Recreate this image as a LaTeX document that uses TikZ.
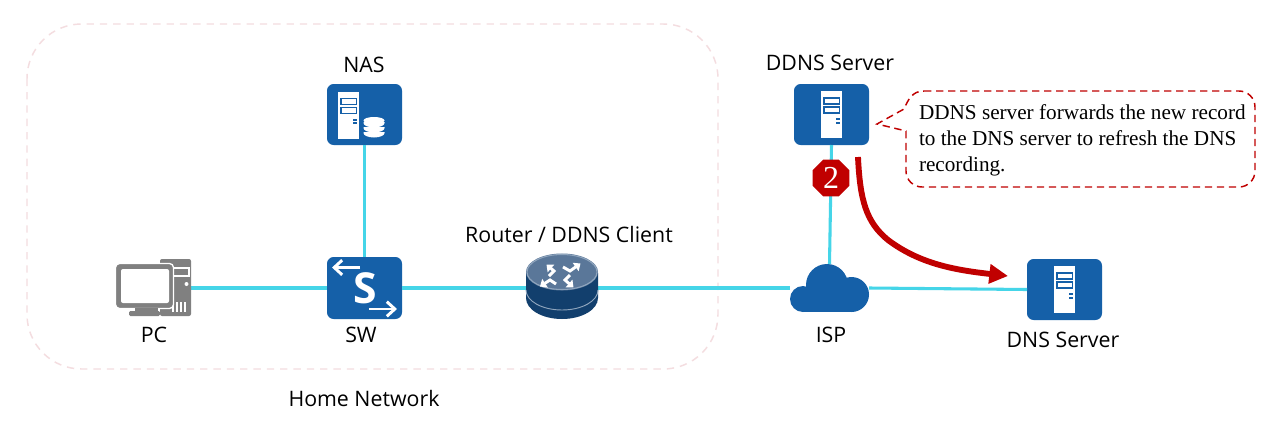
\documentclass[tikz,border=0pt]{standalone}
\usepackage{fontspec}
\setmainfont{Open Sans}
\newfontfamily\calloutfont{Liberation Serif}
\usetikzlibrary{arrows.meta,shapes.geometric}
\definecolor{iconblue}{HTML}{1560A8}
\definecolor{link}{HTML}{45D5E8}
\definecolor{alert}{HTML}{C00000}
\definecolor{zone}{HTML}{F4DDE0}
\definecolor{pcgray}{HTML}{808080}
\definecolor{routertop}{HTML}{5A7799}
\definecolor{routerrim}{HTML}{8FA5BD}
\definecolor{routerbody}{HTML}{123F6D}
\tikzset{
  x=0.75pt,y=-0.75pt,
  iconbox/.style={fill=iconblue,rounded corners=5pt,minimum width=56.25pt,minimum height=45.75pt,inner sep=0pt,outer sep=0pt},
  ghost/.style={inner sep=0pt,outer sep=0pt},
  linkline/.style={draw=link,line width=2.3pt},
  caption/.style={font=\fontsize{16}{19}\selectfont,text=black,inner sep=0pt},
  slot/.style={draw=iconblue,line width=1pt,fill=white},
  flow/.style={draw=white,line width=2.2pt,-{Triangle[length=4.5pt,width=7.5pt]}},
  swarrow/.style={draw=white,line width=2.2pt,-{Straight Barb[length=6pt,width=11pt]}},
}
% white tower with two drive slots, drawn around the centre of its front
\newcommand{\towerglyph}[2]{%
  \begin{scope}[shift={(#1,#2)}]
    \fill[white] (-10.5,-23.5) rectangle (10.5,23.5);
    \draw[slot] (-7.5,-16.5) rectangle (8,-10.5);
    \draw[slot] (-7.5,-7.5) rectangle (8,-1.5);
    \fill[iconblue] (4.5,3.5) rectangle (8,5.5);
    \fill[iconblue] (4.5,7) rectangle (8,9);
  \end{scope}}
\begin{document}
\begin{tikzpicture}
\useasboundingbox (0,0) rectangle (1283,436);
\fill[white] (0,0) rectangle (1283,436);

% home network zone
\draw[zone,line width=1.1pt,dash pattern=on 5.5pt off 4.5pt,rounded corners=41pt] (27,24) rectangle (718,369);

% device placeholders that carry the connector anchors
\node[ghost,minimum width=56.25pt,minimum height=43pt] (pc) at (153.5,288) {};
\node[iconbox] (nas) at (364.5,114.5) {};
\node[iconbox,minimum height=46.5pt] (sw) at (364.5,288) {};
\node[ghost,minimum width=54pt,minimum height=48pt] (router) at (562,288) {};
\node[ghost,minimum width=59.25pt,minimum height=36pt] (isp) at (829.5,288) {};
\node[iconbox] (ddns) at (831.5,114.5) {};
\node[iconbox] (dns) at (1064.5,289.5) {};

% links
\draw[linkline] (pc.east) -- (sw.west);
\draw[linkline] (nas.south) -- (sw.north);
\draw[linkline] (sw.east) -- (router.west);
\draw[linkline] (router.east) -- (isp.west);
\draw[linkline] (isp.east) -- (dns.west);
\draw[linkline] (ddns.south) -- (isp.north);

% PC
\fill[pcgray,rounded corners=1.5pt] (160,259) rectangle (191,316);
\draw[white,line width=0.8pt] (172,268) -- (189,268) -- (189,276) -- (172,276);
\fill[white] (186.5,284) circle (2);
\foreach \vx in {173,177,181,185}
  \draw[white,line width=0.8pt] (\vx,302) -- (\vx,312);
\draw[white,line width=1pt,fill=pcgray,rounded corners=3pt] (115.5,263.5) rectangle (173.5,308.5);
\fill[white,rounded corners=1.5pt] (121,269) rectangle (169,303);
\fill[pcgray] (135,308) rectangle (158,311.5);
\fill[pcgray,rounded corners=1pt] (129,311) rectangle (160,316);

% NAS glyph
\towerglyph{348.5}{115}
\foreach \dy in {132,127,122}{
  \fill[white] (363.5,\dy) -- (363.5,\dy+1) arc[start angle=180,end angle=0,x radius=10.5,y radius=4.5] -- (384.5,\dy) -- cycle;
}
\fill[white] (374,120.5) ellipse[x radius=10.5,y radius=3.5];

% switch glyph
\node[ghost,text=white,font=\fontsize{32}{32}\bfseries\selectfont] (swlabel) at (365.5,288) {S};
\draw[swarrow] (360,267.5) -- (332,267.5);
\draw[swarrow] (369,309) -- (397,309);

% router glyph
\fill[routerbody] (526,273) -- (526,298) arc[start angle=180,end angle=0,x radius=36,y radius=21] -- (598,273) -- cycle;
\draw[routerrim,line width=0.7pt] (526,290) arc[start angle=180,end angle=0,x radius=36,y radius=20];
\fill[routertop] (562,272) ellipse[x radius=36,y radius=18.5];
\draw[routerrim,line width=0.8pt] (562,272) ellipse[x radius=35,y radius=17.5];
\draw[flow] (549,276) -- (554,271) -- (546.5,264.5);
\draw[flow] (556,284) -- (550,280) -- (540,286.5);
\draw[flow] (563,267) -- (570,271) -- (580.5,263.5);
\draw[flow] (570,275) -- (565,280) -- (573.5,287.5);

% ISP cloud
\fill[iconblue] (803,299) circle (13) (827,285) circle (21) (851.5,294.5) circle (17.5);
\fill[iconblue] (803,290) rectangle (851.5,312);

% server glyphs
\towerglyph{831.5}{114.5}
\towerglyph{1064.5}{289.5}

% step badge
\node[regular polygon,regular polygon sides=8,fill=alert,minimum size=30pt,inner sep=0pt,text=white,font=\calloutfont\fontsize{24}{24}\selectfont] (step2) at (831,178) {2};

% forwarding arrow
\coordinate (fwdstart) at (858,157);
\coordinate (fwdend) at (1008,276);
\draw[alert,line width=4.4pt,-{Triangle[length=14pt,width=14pt]}] (fwdstart) .. controls (860,200) and (866,222) .. (888,240) .. controls (920,264) and (955,270) .. (fwdend);

% callout
\draw[alert,line width=1.1pt,dash pattern=on 5.5pt off 3.5pt]
  (924,91) -- (1239,91) arc[start angle=270,end angle=360,radius=16] -- (1255,171) arc[start angle=0,end angle=90,radius=16] -- (922,187) arc[start angle=90,end angle=180,radius=16] -- (906,131) -- (877,124) -- (904,109) .. controls (908,100) and (912,91) .. cycle;
\node[ghost,anchor=north west,align=left,font=\calloutfont\fontsize{15.9}{19.5}\selectfont] (note) at (919,105) {DDNS server forwards the new record\\to the DNS server to refresh the DNS\\recording.};

% captions
\node[caption] (capnas) at (364,65) {NAS};
\node[caption] (capddns) at (830,63) {DDNS Server};
\node[caption] (caprouter) at (569,234) {Router / DDNS Client};
\node[caption] (cappc) at (154,335) {PC};
\node[caption] (capsw) at (361,335) {SW};
\node[caption] (capisp) at (831,335) {ISP};
\node[caption] (capdns) at (1063,340) {DNS Server};
\node[caption] (caphome) at (364,398) {Home Network};
\end{tikzpicture}
\end{document}
